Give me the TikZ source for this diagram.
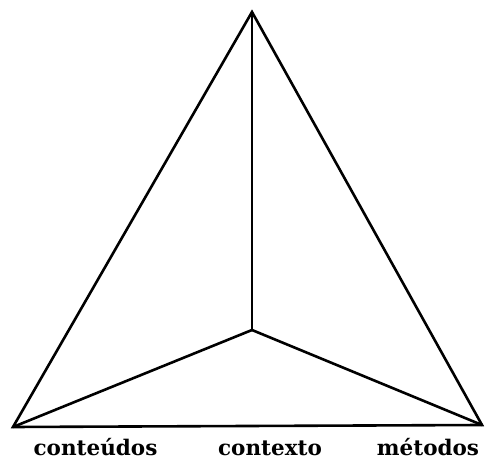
\documentclass[tikz,border=0pt]{standalone}
\usepackage{fontspec}
\setmainfont{DejaVu Serif}
\begin{document}
\begin{tikzpicture}[x=1pt,y=-1pt,
  edge/.style={line width=2.6pt,line join=miter,line cap=round},
  lbl/.style={font=\bfseries\fontsize{21.5}{24}\selectfont,inner sep=0pt,anchor=base}]
\useasboundingbox (0,0) rectangle (485,462);
\coordinate (A) at (252,12);
\coordinate (L) at (13,427);
\coordinate (R) at (482,425);
\coordinate (C) at (252,330);
\draw[edge] (A) -- (L) -- (R) -- cycle;
\draw[edge] (A) -- (C);
\draw[edge] (C) -- (L);
\draw[edge] (C) -- (R);
\node[lbl] (t1) at (95.5,456) {conteúdos};
\node[lbl] (t2) at (270,456) {contexto};
\node[lbl] (t3) at (428,456) {métodos};
\end{tikzpicture}
\end{document}
